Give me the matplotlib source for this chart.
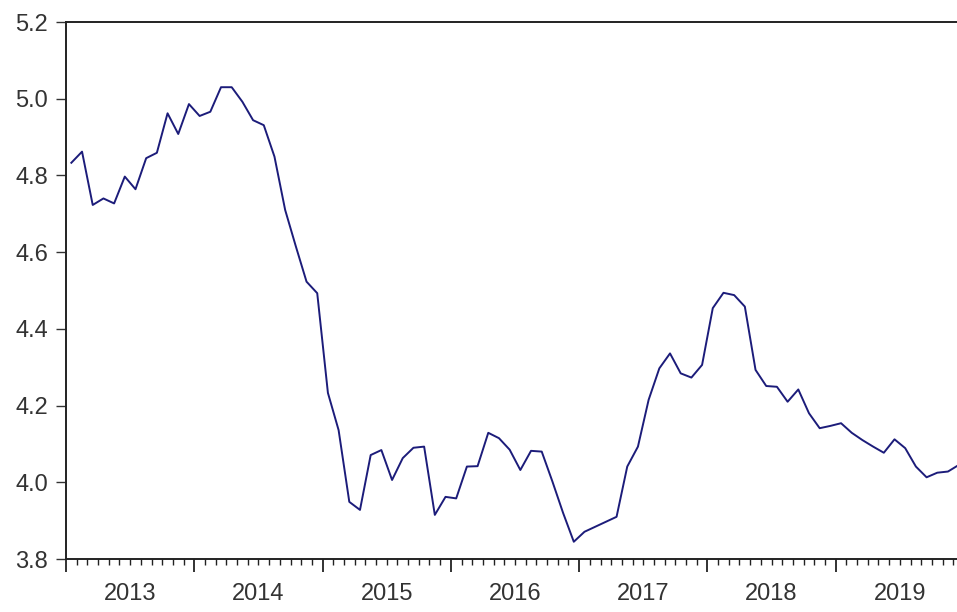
import numpy as np
import matplotlib
matplotlib.use("Agg")
import matplotlib.pyplot as plt

# monthly series, Jan 2013 - Dec 2019
years = [2013, 2014, 2015, 2016, 2017, 2018, 2019]
vals_2013 = [4.833, 4.862, 4.723, 4.740, 4.727, 4.797, 4.764, 4.845, 4.859, 4.962, 4.908, 4.986]
vals_2014 = [4.955, 4.966, 5.030, 5.030, 4.992, 4.944, 4.931, 4.849, 4.710, 4.615, 4.523, 4.493]
vals_2015 = [4.233, 4.136, 3.949, 3.928, 4.071, 4.084, 4.006, 4.063, 4.090, 4.093, 3.915, 3.962]
vals_2016 = [3.958, 4.041, 4.042, 4.129, 4.115, 4.085, 4.032, 4.082, 4.080, 4.002, 3.920, 3.845]
vals_2017 = [3.871, 3.884, 3.897, 3.910, 4.041, 4.093, 4.215, 4.297, 4.336, 4.284, 4.273, 4.306]
vals_2018 = [4.454, 4.494, 4.488, 4.458, 4.293, 4.251, 4.249, 4.210, 4.242, 4.180, 4.141, 4.147]
vals_2019 = [4.154, 4.129, 4.110, 4.093, 4.077, 4.112, 4.089, 4.041, 4.013, 4.025, 4.028, 4.045]

series = np.array(vals_2013 + vals_2014 + vals_2015 + vals_2016 + vals_2017 + vals_2018 + vals_2019)
t = np.arange(len(series))

plt.rcParams['font.family'] = ['Liberation Sans', 'DejaVu Sans']

fig = plt.figure(figsize=(9.57, 6.12), dpi=100)
W, H = 957.0, 612.0
ax = fig.add_axes([66 / W, (H - 559) / H, (964 - 66) / W, (559 - 22) / H])

ax.plot(t, series, color='#1c1c7a', lw=1.4)

ax.set_xlim(-0.5, len(series) - 0.5)
ax.set_ylim(3.8, 5.2)

yt = [3.8, 4.0, 4.2, 4.4, 4.6, 4.8, 5.0, 5.2]
ax.set_yticks(yt)
ax.set_yticklabels(['%.1f' % v for v in yt])
ax.tick_params(axis='y', direction='out', length=7, width=1, pad=6,
               labelsize=17, labelcolor='#333333', color='#333333')

# year boundaries as major ticks, months as minor ticks
bounds = np.arange(-0.5, len(series), 12)
months = np.arange(-0.5, len(series), 1)
ax.set_xticks(bounds)
ax.set_xticklabels([])
ax.set_xticks(months, minor=True)
ax.tick_params(axis='x', which='major', direction='out', length=9, width=1.3, color='#222222')
ax.tick_params(axis='x', which='minor', direction='out', length=4.5, width=1, color='#222222')

# year labels centred in each year
for k, yr in enumerate(years):
    ax.text(k * 12 + 5.5, -0.045, str(yr), transform=ax.get_xaxis_transform(),
            ha='center', va='top', fontsize=17, color='#333333')

for s in ['left', 'bottom', 'top', 'right']:
    ax.spines[s].set_color('#222222')
    ax.spines[s].set_linewidth(1.4)

fig.savefig('out.png', dpi=100)
